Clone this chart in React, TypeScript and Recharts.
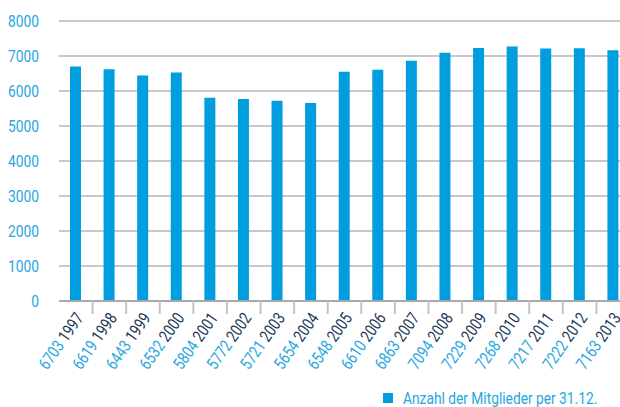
import React from "react";
import { BarChart, Bar, XAxis, YAxis, CartesianGrid } from "recharts";

const years = ["1997", "1998", "1999", "2000", "2001", "2002", "2003", "2004", "2005", "2006", "2007", "2008", "2009", "2010", "2011", "2012", "2013"];
const members = [6703, 6619, 6443, 6532, 5804, 5772, 5721, 5654, 6548, 6610, 6863, 7094, 7229, 7268, 7217, 7222, 7163];
const yTicks = [0, 1000, 2000, 3000, 4000, 5000, 6000, 7000, 8000];
const seriesName = "Anzahl der Mitglieder per 31.12.";

const data = years.map((year, i) => ({ year, value: members[i] }));

const FONT = "Roboto, 'Liberation Sans', sans-serif";
const BLUE = "#009ddf";
const LABEL_BLUE = "#27a6e0";
const DARK = "#1d3a58";
// the reference uses a condensed face; squeeze Roboto horizontally
const SQUEEZE = 0.81;

const XTick = (props: any) => {
  const { x, y, payload, index } = props;
  const half = payload.offset ?? 16.8;
  const value = data[index] ? data[index].value : "";
  return (
    <g>
      {index > 0 && (
        <line x1={x - half} x2={x - half} y1={y - 8} y2={y + 5} stroke="#c4c4c4" strokeWidth={2} />
      )}
      <g transform={`translate(${x + 8.5},${y + 9}) rotate(-55) scale(0.8,1)`}>
        <text textAnchor="end" fontSize={17} fontFamily={FONT}>
          <tspan fill={LABEL_BLUE}>{value}</tspan>
          <tspan fill={DARK}> {payload.value}</tspan>
        </text>
      </g>
    </g>
  );
};

const YTick = (props: any) => {
  const { y, payload } = props;
  return (
    <g transform={`translate(39,${y}) scale(${SQUEEZE},1)`}>
      <text textAnchor="end" dy="0.36em" fontSize={17} fontFamily={FONT} fill={LABEL_BLUE}>
        {payload.value}
      </text>
    </g>
  );
};

export default function App() {
  return (
    <div style={{ position: "absolute", left: 0, top: 0, width: 620, height: 407, overflow: "hidden", background: "#fff" }}>
      {/* the plot runs a little past the right edge, as in the cropped original */}
      <BarChart width={620} height={407} data={data} margin={{ top: 21, right: -10, bottom: 0, left: 0 }} style={{ overflow: "hidden" }}>
        <CartesianGrid vertical={false} stroke="#c8c8c8" strokeWidth={2} />
        <XAxis
          dataKey="year"
          interval={0}
          height={106}
          tickLine={false}
          axisLine={{ stroke: "#a8a8a8", strokeWidth: 2 }}
          tick={<XTick />}
        />
        <YAxis
          ticks={yTicks}
          domain={[0, 8000]}
          width={59}
          axisLine={false}
          tickLine={false}
          tick={<YTick />}
        />
        <Bar dataKey="value" name={seriesName} fill={BLUE} barSize={11} isAnimationActive={false} />
      </BarChart>
      <svg width={230} height={24} style={{ position: "absolute", left: 380, top: 386 }}>
        <rect x={3} y={7} width={10} height={10} fill={BLUE} />
        <g transform={`translate(23,18) scale(${SQUEEZE},1)`}>
          <text x={0} y={0} fontSize={17} fontFamily={FONT} fill={LABEL_BLUE}>
            {seriesName}
          </text>
        </g>
      </svg>
    </div>
  );
}
